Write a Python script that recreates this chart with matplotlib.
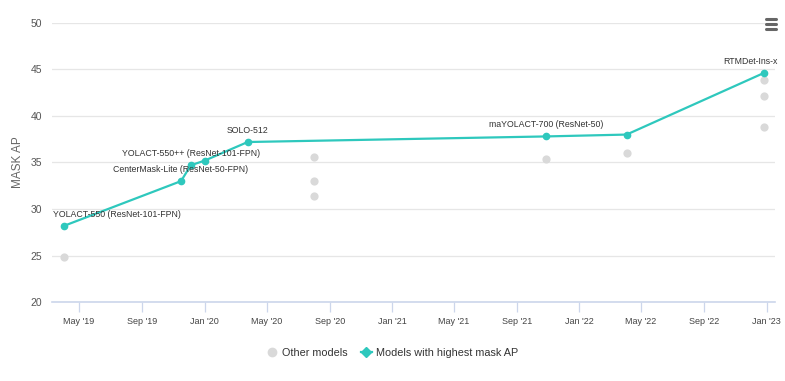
import matplotlib.pyplot as plt
from matplotlib.lines import Line2D
import datetime as dt

# ------------- Data ------------- #
best_dates = ['2019-04-02', '2019-11-16', '2019-12-05', '2020-01-01', '2020-03-25',
              '2021-10-28', '2022-04-03', '2022-12-26']
best_ap = [28.2, 33.0, 34.7, 35.2, 37.2, 37.8, 38.0, 44.6]
best_names = ['YOLACT-550 (ResNet-101-FPN)', 'CenterMask-Lite (ResNet-50-FPN)',
              'YOLACT-550++ (ResNet-101-FPN)', '', 'SOLO-512',
              'maYOLACT-700 (ResNet-50)', '', 'RTMDet-Ins-x']

other_dates = ['2019-04-02', '2020-08-01', '2020-08-01', '2020-08-01',
               '2021-10-28', '2022-04-03', '2022-12-26', '2022-12-26', '2022-12-26']
other_ap = [24.9, 35.6, 33.0, 31.4, 35.4, 36.0, 43.9, 42.1, 38.8]

tick_labels = ["May '19", "Sep '19", "Jan '20", "May '20", "Sep '20", "Jan '21",
               "May '21", "Sep '21", "Jan '22", "May '22", "Sep '22", "Jan '23"]

to_date = lambda s: dt.datetime.strptime(s, '%Y-%m-%d')
best_x = [to_date(d) for d in best_dates]
other_x = [to_date(d) for d in other_dates]

teal = '#2ec8bd'
grey = '#d9d9d9'
text_c = '#333333'
plt.rcParams['font.family'] = ['Liberation Sans', 'DejaVu Sans']

# ------------- Plot Setup ------------- #
fig = plt.figure(figsize=(7.85, 3.81), dpi=100)
ax = fig.add_axes([0.066, 0.207, 0.921, 0.733])

ax.scatter(other_x, other_ap, s=24, color=grey, zorder=2, label='Other models')
ax.plot(best_x, best_ap, color=teal, linewidth=1.6, marker='o', markersize=4.5,
        zorder=3, label='Models with highest mask AP')

for x, y, name in zip(best_x, best_ap, best_names):
    if not name:
        continue
    ha, dx = 'center', 0
    if name.startswith('YOLACT-550 '):
        ha, dx = 'left', -8
    elif name.startswith('RTMDet'):
        ha, dx = 'right', 10
    ax.annotate(name, (x, y), xytext=(dx, 5), textcoords='offset points',
                ha=ha, va='bottom', fontsize=6.3, color=text_c, zorder=4)

ax.set_ylim(20, 50)
ax.set_yticks(range(20, 51, 5))
ax.set_xlim(dt.datetime(2019, 3, 9), dt.datetime(2023, 1, 17))
ticks = [dt.datetime(2019 + (4 + 4 * i) // 12, (4 + 4 * i) % 12 + 1, 1) for i in range(len(tick_labels))]
ax.set_xticks(ticks)
ax.set_xticklabels(tick_labels)

ax.grid(axis='y', color='#e6e6e6', linewidth=0.9)
ax.set_axisbelow(True)
for side in ['top', 'right', 'left']:
    ax.spines[side].set_visible(False)
ax.spines['bottom'].set_color('#ccd6eb')
ax.spines['bottom'].set_linewidth(1.2)
ax.tick_params(axis='x', colors='#ccd6eb', length=7, width=0.9, labelcolor='#444444',
               labelsize=6.5, pad=4)
ax.tick_params(axis='y', length=0, labelcolor='#555555', labelsize=7.5, pad=7)
ax.set_ylabel('MASK AP', color='#666666', fontsize=8.5, labelpad=5)

# hamburger menu icon
for yy in [0.951, 0.938, 0.925]:
    fig.add_artist(Line2D([0.976, 0.989], [yy, yy], color='#666666', linewidth=2.2,
                          solid_capstyle='round'))

handles = [Line2D([], [], linestyle='none', marker='o', color=grey, markersize=6),
           Line2D([], [], color=teal, marker='D', markersize=5, linewidth=1.6)]
fig.legend(handles, ['Other models', 'Models with highest mask AP'], loc='lower center',
           bbox_to_anchor=(0.5, 0.035), ncol=2, frameon=False, fontsize=7.8,
           handlelength=1.0, handletextpad=0.4, columnspacing=1.2, labelcolor='#333333')

# ------------- Save ------------- #
fig.savefig('out.png', dpi=100)
